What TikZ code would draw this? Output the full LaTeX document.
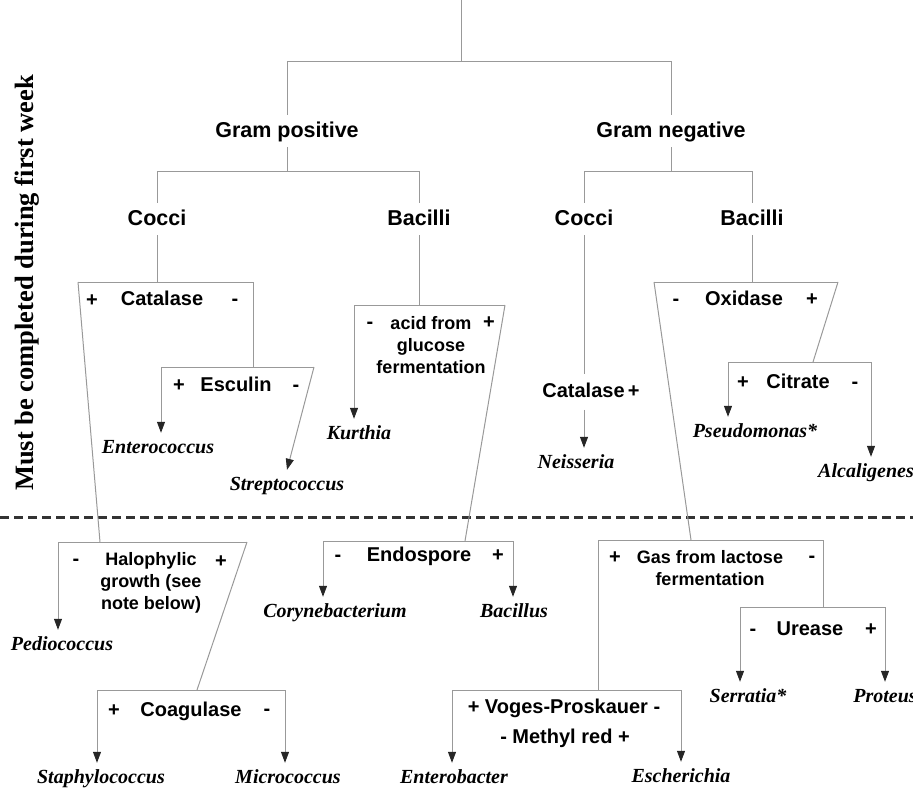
\documentclass[tikz,border=0pt]{standalone}
\usepackage{fontspec}
\setmainfont{Liberation Serif}
\setsansfont{Liberation Sans}
\usepackage{tikz}
\usetikzlibrary{arrows.meta}
\usepackage{xcolor}

\tikzset{
  ln/.style={draw=black!40, line width=1pt},
  arr/.style={ln, -{Triangle[width=8pt,length=11pt,color=black!85]}},
  grp/.style={font=\sffamily\bfseries\fontsize{21.5}{24}\selectfont, text height=15.5pt, text depth=3pt, inner sep=7pt},
  tst/.style={font=\sffamily\bfseries\fontsize{20}{22}\selectfont, text height=14.5pt, text depth=3pt, inner sep=2pt},
  txt/.style={font=\sffamily\bfseries\fontsize{18}{22}\selectfont, align=center, inner sep=2pt},
  org/.style={font=\bfseries\itshape\fontsize{20}{22}\selectfont, text height=14pt, text depth=4pt, inner xsep=1pt, inner ysep=6pt},
  sep/.style={draw=black!80, line width=3pt, dash pattern=on 9pt off 5pt},
}

\begin{document}
\begin{tikzpicture}[x=1pt,y=-1pt]
\useasboundingbox (0,0) rectangle (913,789);

\node[rotate=90, font=\bfseries\fontsize{26.5}{30}\selectfont] (week) at (27,283) {Must be completed during first week};
\coordinate (sep-l) at (0,517);
\coordinate (sep-r) at (913,517);
\draw[sep] (sep-l) -- (sep-r);

\coordinate (root) at (461,0);
\coordinate (top) at (461,62);
\node[grp] (gp) at (287,131) {Gram positive};
\node[grp] (gn) at (671,131) {Gram negative};
\coordinate (gp-j) at (287,171);
\coordinate (gn-j) at (671,171);
\node[grp] (gpc) at (157,219) {Cocci};
\node[grp] (gpb) at (419,219) {Bacilli};
\node[grp] (gnc) at (584,219) {Cocci};
\node[grp] (gnb) at (752,219) {Bacilli};

\coordinate (cat-l) at (78,282); \coordinate (cat-r) at (253,282);
\node[tst] (cat-p) at (92,301) {+};
\node[tst] (cat) at (162,300) {Catalase};
\node[tst] (cat-m) at (235,300) {-};

\coordinate (esc-l) at (161,367); \coordinate (esc-r) at (314,367); \coordinate (esc-in) at (253,367);
\node[tst] (esc-p) at (179,386) {+};
\node[tst] (esc) at (236,386) {Esculin};
\node[tst] (esc-m) at (296,386) {-};

\coordinate (acid-l) at (354,305); \coordinate (acid-r) at (505,305);
\node[tst] (acid-m) at (370,323) {-};
\node[txt] (acid) at (431,345) {acid from\\glucose\\fermentation};
\node[tst] (acid-p) at (489,323) {+};

\coordinate (endo-l) at (323,541); \coordinate (endo-r) at (513,541); \coordinate (endo-in) at (465,541);
\node[tst] (endo-m) at (338,556) {-};
\node[tst] (endo) at (419,556) {Endospore};
\node[tst] (endo-p) at (498,556) {+};

\coordinate (halo-l) at (58,542); \coordinate (halo-r) at (247,542); \coordinate (halo-in) at (100,542);
\node[tst] (halo-m) at (76,560) {-};
\node[txt] (halo) at (151,583) {Halophylic\\growth (see\\note below)};
\node[tst] (halo-p) at (221,562) {+};

\coordinate (coag-l) at (97,690); \coordinate (coag-r) at (285,690); \coordinate (coag-in) at (197,690);
\node[tst] (coag-p) at (114,711) {+};
\node[tst] (coag) at (191,711) {Coagulase};
\node[tst] (coag-m) at (267,710) {-};

\node[tst, inner ysep=9pt] (gncat) at (591,392) {Catalase\,+};

\coordinate (oxi-l) at (654,282); \coordinate (oxi-r) at (838,282);
\node[tst] (oxi-m) at (676,300) {-};
\node[tst] (oxi) at (744,300) {Oxidase};
\node[tst] (oxi-p) at (812,300) {+};

\coordinate (cit-l) at (728,362); \coordinate (cit-r) at (871,362); \coordinate (cit-in) at (813,362);
\node[tst] (cit-p) at (743,383) {+};
\node[tst] (cit) at (798,383) {Citrate};
\node[tst] (cit-m) at (855,383) {-};

\coordinate (gas-l) at (598,540); \coordinate (gas-r) at (823,540); \coordinate (gas-in) at (691,540);
\node[tst] (gas-p) at (615,558) {+};
\node[txt] (gas) at (710,568) {Gas from lactose\\fermentation};
\node[tst] (gas-m) at (812,557) {-};

\coordinate (ure-l) at (740,607); \coordinate (ure-r) at (885,607); \coordinate (ure-in) at (823,607);
\node[tst] (ure-m) at (753,630) {-};
\node[tst] (ure) at (810,630) {Urease};
\node[tst] (ure-p) at (871,630) {+};

\coordinate (vp-l) at (452,690); \coordinate (vp-r) at (681,690); \coordinate (vp-in) at (598,690);
\node[tst] (vp) at (564,708) {+ Voges-Proskauer -};
\node[tst] (mr) at (565,738) {- Methyl red +};

\node[org] (entc) at (158,448) {Enterococcus};
\node[org] (strep) at (287,485) {Streptococcus};
\node[org] (kurt) at (359,434) {Kurthia};
\node[org] (neis) at (576,463) {Neisseria};
\node[org] (pseu) at (755,432) {Pseudomonas*};
\node[org] (alca) at (866,472) {Alcaligenes};
\node[org] (cory) at (335,612) {Corynebacterium};
\node[org] (baci) at (514,612) {Bacillus};
\node[org] (pedi) at (62,645) {Pediococcus};
\node[org] (staph) at (101,778) {Staphylococcus};
\node[org] (micro) at (288,778) {Micrococcus};
\node[org] (entb) at (454,778) {Enterobacter};
\node[org] (esch) at (681,777) {Escherichia};
\node[org] (serr) at (748,697) {Serratia*};
\node[org] (prot) at (885,697) {Proteus};

\draw[ln] (root) -- (top);
\draw[ln] (top) -| (gp.north);
\draw[ln] (top) -| (gn.north);
\draw[ln] (gp.south) -- (gp-j) -| (gpc.north);
\draw[ln] (gp-j) -| (gpb.north);
\draw[ln] (gn.south) -- (gn-j) -| (gnc.north);
\draw[ln] (gn-j) -| (gnb.north);

\foreach \i/\j in {gpc/cat-l, gpb/acid-l, gnb/oxi-l, gnc/gncat.north}
\draw[ln] (\i.south) -- (\i.south |- \j);

\foreach \b in {cat, esc, acid, endo, halo, coag, oxi, cit, gas, ure, vp}
\draw[ln] (\b-l) -- (\b-r);

\foreach \i/\j in {cat-l/halo-in, cat-r/esc-in, acid-r/endo-in, halo-r/coag-in, oxi-l/gas-in, oxi-r/cit-in, gas-l/vp-in, gas-r/ure-in}
\draw[ln] (\i) -- (\j);

\foreach \i/\j in {esc-l/entc, acid-l/kurt, endo-l/cory, endo-r/baci, halo-l/pedi, coag-l/staph, coag-r/micro, cit-l/pseu, cit-r/alca, ure-l/serr, ure-r/prot, vp-l/entb, vp-r/esch}
\draw[arr] (\i) -- (\i |- \j.north);

\draw[arr] (esc-r) -- (strep.north);
\draw[arr] (gnc.south |- gncat.south) -- (gnc.south |- neis.north);

\end{tikzpicture}
\end{document}
